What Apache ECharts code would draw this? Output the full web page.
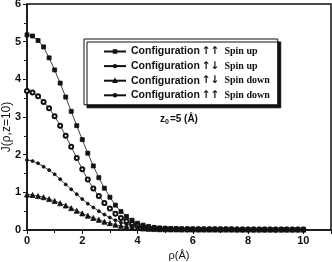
<!DOCTYPE html>
<html>
<head>
<meta charset="utf-8">
<script src="https://cdn.jsdelivr.net/npm/echarts@6/dist/echarts.min.js"></script>
<style>
  html, body { margin: 0; padding: 0; background: #fff; }
  #chart { width: 332px; height: 262px; }
</style>
</head>
<body>
<div id="chart"></div>
<script>
// ρ (Å), markers every 0.2
const rho = [
  0, 0.2, 0.4, 0.6, 0.8, 1, 1.2, 1.4, 1.6, 1.8,
  2, 2.2, 2.4, 2.6, 2.8, 3, 3.2, 3.4, 3.6, 3.8,
  4, 4.2, 4.4, 4.6, 4.8, 5, 5.2, 5.4, 5.6, 5.8,
  6, 6.2, 6.4, 6.6, 6.8, 7, 7.2, 7.4, 7.6, 7.8,
  8, 8.2, 8.4, 8.6, 8.8, 9, 9.2, 9.4, 9.6, 9.8, 10
];

const upUp = [
  5.18, 5.15, 5.03, 4.86, 4.57, 4.25, 3.90, 3.53, 3.15, 2.77,
  2.40, 2.04, 1.70, 1.39, 1.11, 0.87, 0.66, 0.49, 0.36, 0.26,
  0.18, 0.13, 0.095, 0.07, 0.055, 0.045, 0.04, 0.035, 0.032, 0.03,
  0.028, 0.027, 0.026, 0.025, 0.024, 0.023, 0.023, 0.022, 0.022, 0.021,
  0.021, 0.02, 0.02, 0.02, 0.019, 0.019, 0.019, 0.018, 0.018, 0.018, 0.018
];
const upDownUp = [
  3.69, 3.65, 3.55, 3.40, 3.23, 3.02, 2.77, 2.50, 2.21, 1.91,
  1.61, 1.34, 1.10, 0.90, 0.72, 0.57, 0.43, 0.32, 0.23, 0.16,
  0.11, 0.08, 0.06, 0.045, 0.035, 0.03, 0.026, 0.024, 0.022, 0.02,
  0.02, 0.019, 0.019, 0.018, 0.018, 0.017, 0.017, 0.017, 0.016, 0.016,
  0.016, 0.016, 0.015, 0.015, 0.015, 0.015, 0.015, 0.015, 0.014, 0.014, 0.014
];
const upDownDown = [
  0.94, 0.93, 0.90, 0.87, 0.82, 0.77, 0.71, 0.65, 0.58, 0.51,
  0.44, 0.38, 0.32, 0.27, 0.22, 0.18, 0.14, 0.11, 0.085, 0.065,
  0.05, 0.04, 0.03, 0.025, 0.02, 0.018, 0.016, 0.015, 0.014, 0.013,
  0.013, 0.012, 0.012, 0.012, 0.012, 0.011, 0.011, 0.011, 0.011, 0.011,
  0.01, 0.01, 0.01, 0.01, 0.01, 0.01, 0.01, 0.01, 0.01, 0.01, 0.01
];
const upUpDown = [
  1.86, 1.83, 1.77, 1.68, 1.59, 1.48, 1.35, 1.21, 1.08, 0.95,
  0.82, 0.70, 0.60, 0.50, 0.41, 0.33, 0.26, 0.20, 0.15, 0.11,
  0.08, 0.06, 0.045, 0.035, 0.03, 0.025, 0.022, 0.02, 0.019, 0.018,
  0.017, 0.016, 0.016, 0.015, 0.015, 0.015, 0.014, 0.014, 0.014, 0.014,
  0.013, 0.013, 0.013, 0.013, 0.013, 0.012, 0.012, 0.012, 0.012, 0.012, 0.012
];

// name = config text | arrows | spin text
const seriesDefs = [
  { name: "Configuration|↑↑|Spin up", data: upUp, symbol: "rect", size: 4 },
  { name: "Configuration|↑↓|Spin up", data: upDownUp, symbol: "emptyCircle", size: 4 },
  { name: "Configuration|↑↓|Spin down", data: upDownDown, symbol: "triangle", size: 5 },
  { name: "Configuration|↑↑|Spin down", data: upUpDown, symbol: "circle", size: 3 },
];

const INK = "#111";

const chart = echarts.init(document.getElementById("chart"), null, { renderer: "canvas" });

chart.setOption({
  animation: false,
  backgroundColor: "#fff",
  grid: {
    left: 27, right: 1, top: 4, bottom: 32,
    outerBoundsMode: "none",
    containLabel: false,
    show: true, borderColor: INK, borderWidth: 1.5, backgroundColor: "transparent",
  },
  title: {
    text: "{a|z}{s|0}{a|=5 (Å)}",
    left: 155, top: 108,
    textStyle: {
      rich: {
        a: { fontFamily: "Liberation Sans", fontWeight: "bold", fontSize: 10, color: INK },
        s: { fontFamily: "Liberation Sans", fontWeight: "bold", fontSize: 7, color: INK, padding: [6, 1, 0, 0] },
      },
    },
  },
  legend: {
    orient: "vertical",
    left: 84, top: 39,
    padding: [7, 8, 4, 19],
    itemWidth: 22, itemHeight: 3, itemGap: 3.6,
    backgroundColor: "#fff",
    borderColor: INK, borderWidth: 1,
    shadowColor: INK, shadowOffsetX: 3, shadowOffsetY: 3, shadowBlur: 0,
    data: seriesDefs.map((s) => s.name),
    formatter: (name) => {
      const [cfg, arr, spin] = name.split("|");
      return "{c|" + cfg + "}{ar|" + arr + "}{sp|" + spin + "}";
    },
    textStyle: {
      rich: {
        c: { fontFamily: "Liberation Sans", fontWeight: "bold", fontSize: 10.5, color: INK },
        ar: { fontFamily: "DejaVu Sans", fontWeight: "bold", fontSize: 10.5, color: INK, padding: [0, 0, 0, 2] },
        sp: { fontFamily: "Liberation Serif", fontWeight: "bold", fontSize: 10, color: INK, padding: [0, 0, 0, 5] },
      },
    },
  },
  xAxis: {
    type: "value",
    min: 0, max: 11, interval: 2,
    name: "ρ(Å)",
    nameLocation: "middle",
    nameGap: 20,
    nameMoveOverlap: false,
    nameTextStyle: { fontFamily: "Liberation Sans", fontSize: 11, color: INK },
    axisLine: { lineStyle: { color: INK, width: 1.5 } },
    axisTick: { length: 4, lineStyle: { color: INK, width: 1 } },
    minorTick: { show: true, splitNumber: 2, length: 3, lineStyle: { color: INK, width: 1 } },
    axisLabel: {
      fontFamily: "Liberation Sans", fontWeight: "bold", fontSize: 11, color: INK, margin: 5,
      showMaxLabel: false,
    },
    splitLine: { show: false },
  },
  yAxis: {
    type: "value",
    min: 0, max: 6, interval: 1,
    name: "J(ρ,z=10)",
    nameLocation: "middle",
    nameGap: 14,
    nameMoveOverlap: false,
    nameTextStyle: { fontFamily: "Liberation Sans", fontSize: 12, color: INK, padding: [0, 20, 0, 0] },
    axisLine: { lineStyle: { color: INK, width: 1.5 } },
    axisTick: { length: 4, lineStyle: { color: INK, width: 1 } },
    minorTick: { show: true, splitNumber: 2, length: 3, lineStyle: { color: INK, width: 1 } },
    axisLabel: { fontFamily: "Liberation Sans", fontWeight: "bold", fontSize: 11, color: INK, margin: 6 },
    splitLine: { show: false },
  },
  series: seriesDefs.map((s) => ({
    name: s.name,
    type: "line",
    data: rho.map((x, i) => [x, s.data[i]]),
    symbol: s.symbol,
    symbolSize: s.size,
    showAllSymbol: true,
    lineStyle: { color: INK, width: 0.8 },
    itemStyle: { color: INK, borderColor: INK, borderWidth: 0.8 },
  })),
});
</script>
</body>
</html>
